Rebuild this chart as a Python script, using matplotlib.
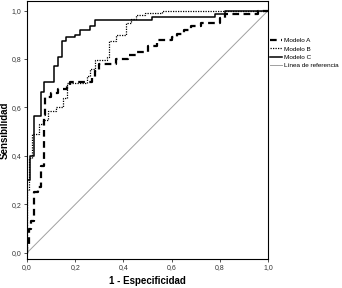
import matplotlib.pyplot as plt
from matplotlib.ticker import FuncFormatter

plt.rcParams['font.family'] = ['Liberation Sans', 'DejaVu Sans']

# Modelo A (dashed)
fpr_a = [0, 0, 0.01, 0.01, 0.015, 0.015, 0.03, 0.03, 0.045, 0.045, 0.06, 0.06, 0.07, 0.07, 0.075, 0.075,
         0.1, 0.1, 0.13, 0.13, 0.165, 0.165, 0.18, 0.18, 0.27, 0.27, 0.28, 0.28, 0.3, 0.3,
         0.37, 0.37, 0.42, 0.42, 0.45, 0.45, 0.5, 0.5, 0.54, 0.54, 0.6, 0.6, 0.62, 0.62,
         0.65, 0.65, 0.68, 0.68, 0.72, 0.72, 0.8, 0.8, 0.82, 0.82, 0.96, 0.96, 1.0]
tpr_a = [0, 0.03, 0.03, 0.1, 0.1, 0.13, 0.13, 0.25, 0.25, 0.27, 0.27, 0.36, 0.36, 0.57, 0.57, 0.645,
         0.645, 0.66, 0.66, 0.675, 0.675, 0.69, 0.69, 0.705, 0.705, 0.725, 0.725, 0.75, 0.75, 0.78,
         0.78, 0.80, 0.80, 0.815, 0.815, 0.83, 0.83, 0.855, 0.855, 0.88, 0.88, 0.89, 0.89, 0.905,
         0.905, 0.92, 0.92, 0.935, 0.935, 0.95, 0.95, 0.97, 0.97, 0.985, 0.985, 1.0, 1.0]

# Modelo B (dotted)
fpr_b = [0, 0, 0.01, 0.01, 0.02, 0.02, 0.035, 0.035, 0.05, 0.05, 0.065, 0.065, 0.085, 0.085,
         0.12, 0.12, 0.15, 0.15, 0.165, 0.165, 0.25, 0.25, 0.26, 0.26, 0.28, 0.28, 0.33, 0.33,
         0.34, 0.34, 0.37, 0.37, 0.41, 0.41, 0.43, 0.43, 0.45, 0.45, 0.49, 0.49, 0.56, 0.56, 1.0]
tpr_b = [0, 0.26, 0.26, 0.39, 0.39, 0.49, 0.49, 0.49, 0.49, 0.53, 0.53, 0.55, 0.55, 0.585,
         0.585, 0.60, 0.60, 0.64, 0.64, 0.70, 0.70, 0.73, 0.73, 0.76, 0.76, 0.795, 0.795, 0.81,
         0.81, 0.875, 0.875, 0.90, 0.90, 0.95, 0.95, 0.965, 0.965, 0.98, 0.98, 0.99, 0.99, 1.0, 1.0]

# Modelo C (solid)
fpr_c = [0, 0, 0.014, 0.014, 0.03, 0.03, 0.06, 0.06, 0.07, 0.07, 0.11, 0.11, 0.13, 0.13,
         0.145, 0.145, 0.16, 0.16, 0.2, 0.2, 0.22, 0.22, 0.26, 0.26, 0.28, 0.28,
         0.52, 0.52, 0.78, 0.78, 0.82, 0.82, 1.0]
tpr_c = [0, 0.30, 0.30, 0.40, 0.40, 0.565, 0.565, 0.665, 0.665, 0.705, 0.705, 0.77, 0.77, 0.81,
         0.81, 0.875, 0.875, 0.89, 0.89, 0.90, 0.90, 0.92, 0.92, 0.935, 0.935, 0.96,
         0.96, 0.975, 0.975, 0.985, 0.985, 1.0, 1.0]

ticks = [0, 0.2, 0.4, 0.6, 0.8, 1.0]

fig = plt.figure(figsize=(3.42, 2.88), dpi=100)
ax = fig.add_axes([0.079, 0.101, 0.705, 0.896])

ax.plot([0, 1], [0, 1], color='#a0a0a0', lw=0.7, label='Línea de referencia')
ax.plot(fpr_a, tpr_a, color='black', lw=1.6, linestyle=(0, (3, 2)), label='Modelo A')
ax.plot(fpr_b, tpr_b, color='black', lw=0.9, linestyle=(0, (1, 1)), label='Modelo B')
ax.plot(fpr_c, tpr_c, color='black', lw=1.1, label='Modelo C')

ax.set_xlim(0, 1)
ax.set_ylim(-0.025, 1.04)
ax.set_xticks(ticks)
ax.set_yticks(ticks)
fmt = FuncFormatter(lambda v, p: f'{v:.1f}'.replace('.', ','))
ax.xaxis.set_major_formatter(fmt)
ax.yaxis.set_major_formatter(fmt)
ax.tick_params(labelsize=5, length=2.5, width=0.6, pad=1.5, colors='#333333')
for s in ax.spines.values():
    s.set_linewidth(0.8)

ax.set_xlabel('1 - Especificidad', fontsize=7, fontweight='bold', labelpad=3)
ax.set_ylabel('Sensibilidad', fontsize=7, fontweight='bold')
ax.yaxis.set_label_coords(-0.072, 0.5)

h, l = ax.get_legend_handles_labels()
order = [1, 2, 3, 0]
fig.legend([h[i] for i in order], [l[i] for i in order], loc='upper left',
           bbox_to_anchor=(0.781, 0.878), frameon=False, fontsize=4.6,
           handlelength=1.9, handletextpad=0.4, labelspacing=0.45, borderaxespad=0)

fig.savefig('out.png', dpi=100)
